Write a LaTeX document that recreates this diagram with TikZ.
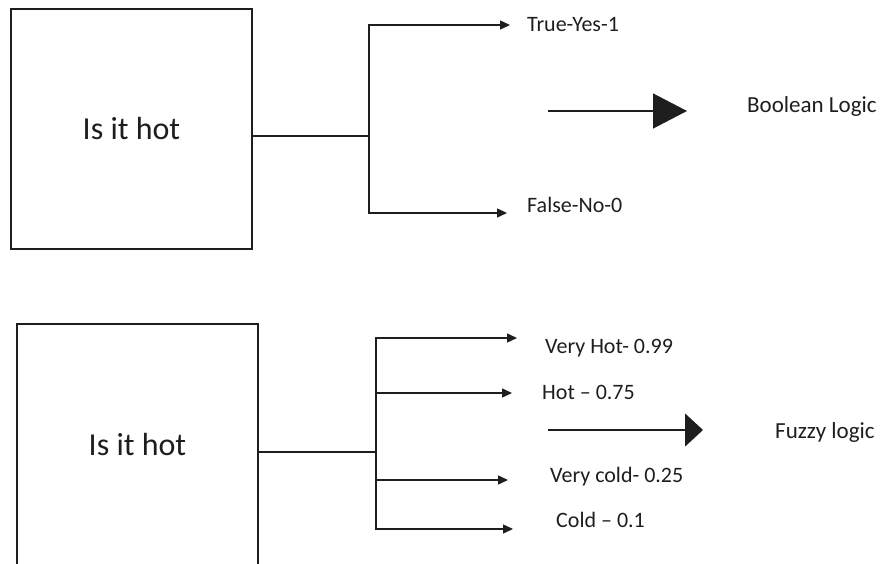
\documentclass[tikz,border=0pt]{standalone}
\usepackage{fontspec}
\setmainfont{Carlito}
\usetikzlibrary{arrows.meta}
\definecolor{ink}{HTML}{1E1E1E}
\begin{document}
\begin{tikzpicture}[x=1pt,y=-1pt,
  qbox/.style={draw=ink,line width=1.8pt,minimum width=241pt,minimum height=240pt,
    inner sep=0pt,text=ink,font=\fontsize{32}{36}\selectfont},
  conn/.style={draw=ink,line width=1.4pt},
  arr/.style={conn,-{Triangle[length=10pt,width=9pt]}},
  lbl/.style={anchor=west,inner sep=0pt,text=ink,font=\fontsize{22}{26}\selectfont},
  big/.style={anchor=west,inner sep=0pt,text=ink,font=\fontsize{23}{27}\selectfont}]
\useasboundingbox (0,0) rectangle (891,564);
\clip (0,0) rectangle (891,564);

% Boolean decision
\node[qbox] (box1) at (131.5,129) {Is it hot};
\coordinate (j1) at (369,136);
\coordinate (t1) at (510,25);
\coordinate (t2) at (507,213);
\draw[conn] (box1.east |- j1) -- (j1);
\draw[arr] (j1) |- (t1);
\draw[arr] (j1) |- (t2);
\node[lbl] (yes) at (527,25) {True-Yes-1};
\node[lbl] (no) at (527,205) {False-No-0};
\coordinate (b1s) at (548,111);
\coordinate (b1e) at (687,111);
\draw[conn,-{Triangle[length=34pt,width=35pt]}] (b1s) -- (b1e);
\node[big] (bool) at (747,106) {Boolean Logic};

% Fuzzy decision
\node[qbox,minimum height=241pt] (box2) at (137.5,444.5) {Is it hot};
\coordinate (j2) at (376,452);
\coordinate (f1) at (517,338);
\coordinate (f2) at (512,393);
\coordinate (f3) at (508,480);
\coordinate (f4) at (513,529);
\draw[conn] (box2.east |- j2) -- (j2);
\draw[arr] (j2) |- (f1);
\draw[arr] (j2) |- (f2);
\draw[arr] (j2) |- (f3);
\draw[arr] (j2) |- (f4);
\node[lbl] (vhot) at (545,348) {Very Hot- 0.99};
\node[lbl] (hot) at (542,392) {Hot – 0.75};
\node[lbl] (vcold) at (550,477) {Very cold- 0.25};
\node[lbl] (cold) at (556,520) {Cold – 0.1};
\coordinate (b2s) at (548,430);
\coordinate (b2e) at (703,430);
\draw[conn,-{Triangle[length=18pt,width=33pt]}] (b2s) -- (b2e);
\node[big] (fuzzy) at (775,432) {Fuzzy logic};
\end{tikzpicture}
\end{document}
